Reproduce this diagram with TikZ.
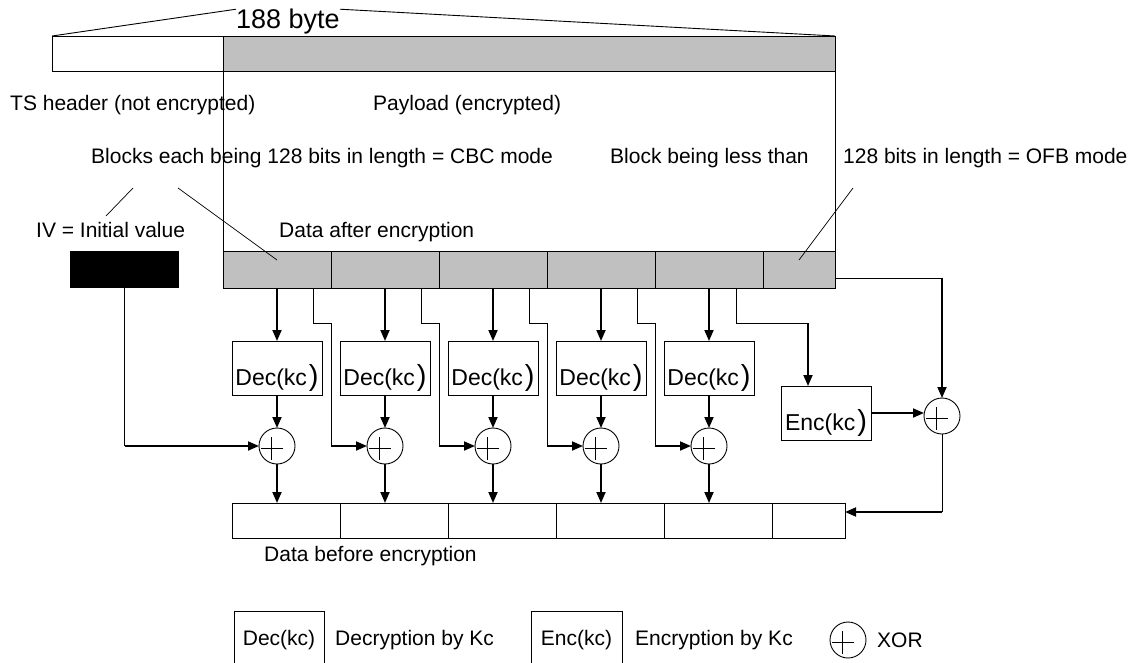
\documentclass[tikz,border=0pt]{standalone}
\usepackage{fontspec}
\setmainfont{Liberation Sans}
\usetikzlibrary{arrows.meta}
\definecolor{blockgray}{HTML}{C0C0C0}
\tikzset{
  lbl/.style={font=\fontsize{21}{25}\selectfont, inner sep=0pt, anchor=west},
  thinline/.style={line width=0.9pt},
  ptrline/.style={line width=0.7pt},
  thickarrow/.style={line width=1.8pt, -{Triangle[length=11pt,width=9pt]}},
  gblock/.style={draw, line width=0.9pt, fill=blockgray, minimum height=37pt, inner sep=0pt, outer sep=0pt},
  wblock/.style={draw, line width=0.9pt, minimum height=35pt, inner sep=0pt, outer sep=0pt},
  keybox/.style={draw, line width=0.9pt, minimum width=90pt, minimum height=54pt, inner sep=0pt, outer sep=0pt,
    font=\fontsize{23}{27}\selectfont, text height=40pt, text depth=6pt},
  legbox/.style={draw, line width=0.9pt, minimum width=90pt, minimum height=58pt, inner sep=0pt, outer sep=0pt,
    font=\fontsize{21}{25}\selectfont},
  xorc/.style={draw, circle, line width=0.9pt, minimum size=36pt, inner sep=0pt, outer sep=0pt,
    path picture={
      \draw[line width=1.9pt] ([shift={(-16.5,2.5)}]path picture bounding box.center) -- ++(22,0);
      \draw[line width=1.9pt] ([shift={(-5.5,-9)}]path picture bounding box.center) -- ++(0,23);
    }},
}
\begin{document}
\begin{tikzpicture}[x=1pt,y=-1pt]
\clip (0,0) rectangle (1139,663);

% ---- top 188 byte packet ----
\node[wblock, minimum width=171pt] (th) at (137.5,53.5) {};
\node[gblock, minimum width=612pt, minimum height=35pt] (pb) at (529,53.5) {};
\node[font=\fontsize{27}{30}\selectfont, inner sep=0pt] (t188) at (288,22) {188 byte};
\draw[thinline] (th.north west) -- (t188.north west);
\draw[thinline] (t188.north east) -- (pb.north east);

% ---- encrypted blocks ----
\foreach \i/\cx in {1/277,2/385,3/493,4/601,5/709}
  \node[gblock, minimum width=108pt] (g\i) at (\cx,269.5) {};
\node[gblock, minimum width=72pt] (g6) at (799,269.5) {};
\draw[thinline] (pb.south west) -- (g1.north west);
\draw[thinline] (pb.south east) -- (g6.north east);

% IV
\node[fill=black, minimum width=109pt, minimum height=37pt, inner sep=0pt] (iv) at (124.5,269.5) {};

% ---- labels ----
\node[lbl] (tsh) at (10,105) {TS header (not encrypted)};
\node[lbl] (pay) at (373,105) {Payload (encrypted)};
\node[lbl] (cbc) at (91,158) {Blocks each being 128 bits in length = CBC mode};
\node[lbl] (ofba) at (610,158) {Block being less than};
\node[lbl] (ofbb) at (843,158) {128 bits in length = OFB mode};
\node[lbl] (ivl) at (36,230) {IV = Initial value};
\node[lbl] (dae) at (279,232) {Data after encryption};
\node[lbl] (dbe) at (264,556) {Data before encryption};

% pointer lines
\coordinate (pa1) at (133,188);
\coordinate (pa2) at (106,216);
\coordinate (pb1) at (178,188);
\coordinate (pc1) at (853,188);
\draw[ptrline] (pa1) -- (pa2);
\draw[ptrline] (pb1) -- ([yshift=9.5pt]g1.center);
\draw[ptrline] (pc1) -- ([yshift=9.5pt]g6.center);

% ---- decryption stages ----
\foreach \i/\cx in {1/277,2/385,3/493,4/601,5/709}{
  \node[keybox] (d\i) at (\cx,368) {Dec(kc\hspace{2pt}{\fontsize{29}{29}\selectfont)}};
  \node[xorc] (x\i) at (\cx,446) {};
}
\node[keybox] (enc) at (826,413) {Enc(kc\hspace{2pt}{\fontsize{29}{29}\selectfont)}};
\node[xorc] (xe) at (942,416) {};

% ---- plain blocks ----
\foreach \i/\cx in {1/286,2/394,3/502,4/610,5/718}
  \node[wblock, minimum width=108pt] (b\i) at (\cx,520.5) {};
\node[wblock, minimum width=73pt] (b6) at (808.5,520.5) {};

% ---- connectors ----
\foreach \i in {1,...,5}{
  \draw[thickarrow] (g\i.south) -- (d\i.north);
  \draw[thickarrow] (d\i.south) -- (x\i.north);
  \draw[thickarrow] (x\i.south) -- (x\i.south |- b1.north);
}
\coordinate (ky) at (0,323);
\foreach \i/\j in {1/2,2/3,3/4,4/5}{
  \coordinate (f\i) at ([xshift=-18pt]g\i.south east);
  \coordinate (k\i) at (g\i.south east |- x\j.center);
  \draw[thinline] (f\i) -- (f\i |- ky) -| (k\i);
  \draw[thickarrow] (k\i) -- (x\j.west);
}
% IV feed
\coordinate (ivk) at (iv.south |- x1.center);
\draw[thinline] (iv.south) -- (ivk);
\draw[thickarrow] (ivk) -- (x1.west);

% block 5 -> Enc
\coordinate (f5) at ([xshift=-27pt]g5.south east);
\coordinate (ein) at ([xshift=-18pt]enc.north);
\draw[thinline] (f5) -- (f5 |- ky) -- (ein |- ky);
\draw[thickarrow] (ein |- ky) -- (ein);

% last block -> XOR
\coordinate (g6r) at ([yshift=-8.5pt]g6.east);
\draw[thinline] (g6r) -- (g6r -| xe.north);
\draw[thickarrow] (g6r -| xe.north) -- (xe.north);
\draw[thickarrow] (enc.east) -- (enc.east -| xe.west);

% XOR -> last plain block
\coordinate (ry) at (0,512);
\draw[thinline] (xe.south) -- (xe.south |- ry);
\draw[thickarrow] (xe.south |- ry) -- (b6.east |- ry);

% ---- legend ----
\node[legbox] (ldec) at (279,640) {Dec(kc)};
\node[lbl] (ldect) at (335,640) {Decryption by Kc};
\node[legbox, minimum width=91pt] (lenc) at (576.5,640) {Enc(kc)};
\node[lbl] (lenct) at (635,640) {Encryption by Kc};
\node[xorc] (lxor) at (848,640) {};
\node[lbl] (lxort) at (877,640) {XOR};
\end{tikzpicture}
\end{document}
